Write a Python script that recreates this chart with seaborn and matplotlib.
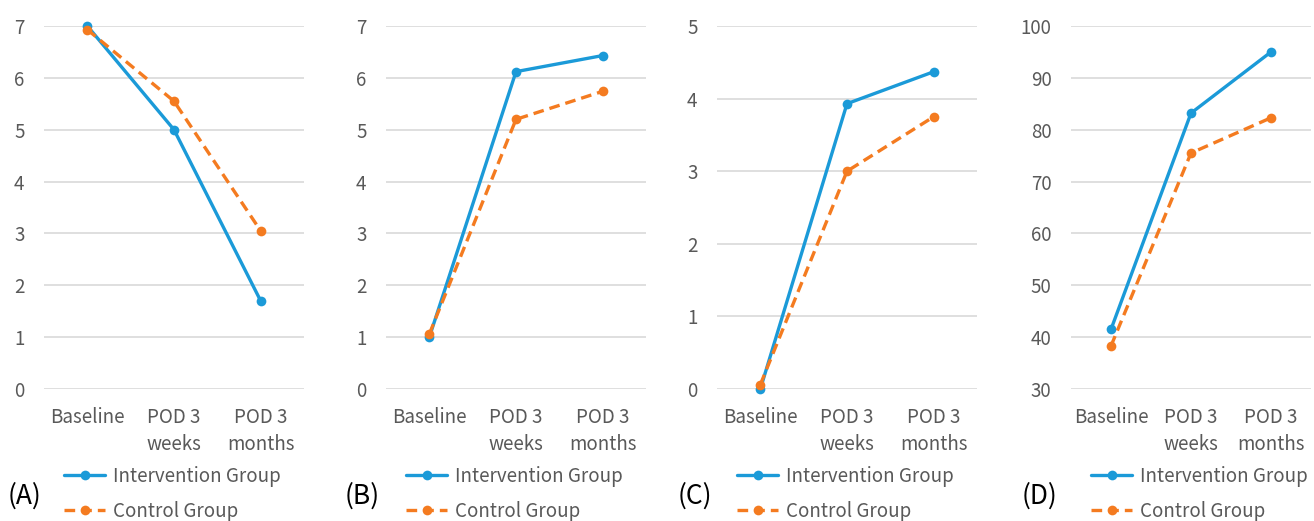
import numpy as np
import pandas as pd
import seaborn as sns
import matplotlib.pyplot as plt

times = ['Baseline', 'POD 3\nweeks', 'POD 3\nmonths']
groups = ['Intervention Group', 'Control Group']
panels = ['(A)', '(B)', '(C)', '(D)']

# values
interv_a = [7.0, 5.0, 1.7]
control_a = [6.93, 5.55, 3.05]
interv_b = [1.0, 6.12, 6.43]
control_b = [1.06, 5.2, 5.74]
interv_c = [0.0, 3.93, 4.37]
control_c = [0.06, 3.0, 3.75]
interv_d = [41.5, 83.2, 95.0]
control_d = [38.3, 75.5, 82.3]

ylims = [(0, 7, 1), (0, 7, 1), (0, 5, 1), (30, 100, 10)]

sns.set_theme(style='white')
plt.rcParams['font.family'] = ['Noto Sans CJK KR', 'DejaVu Sans']

blue = '#1b9ad8'
orange = '#f47b20'
grey = '#595959'

fig = plt.figure(figsize=(13.14, 5.21), dpi=100)
W, H = 1314, 521
lefts = [44, 386, 717, 1071]
widths = [260, 260, 260, 240]
label_x = [8, 345, 678, 1022]

data = [(interv_a, control_a), (interv_b, control_b),
        (interv_c, control_c), (interv_d, control_d)]

for i, (iv, cv) in enumerate(data):
    ax = fig.add_axes([lefts[i] / W, 1 - 389 / H, widths[i] / W, 363 / H])
    df = pd.DataFrame({'time': times * 2,
                       'value': iv + cv,
                       'group': [groups[0]] * 3 + [groups[1]] * 3})
    sns.lineplot(data=df[df.group == groups[0]], x='time', y='value', ax=ax,
                 color=blue, lw=2.4, marker='o', ms=7, mec=blue, mew=0,
                 sort=False, label=groups[0], clip_on=False)
    sns.lineplot(data=df[df.group == groups[1]], x='time', y='value', ax=ax,
                 color=orange, lw=2.4, marker='o', ms=7, mec=orange, mew=0,
                 linestyle=(0, (3.2, 1.8)), sort=False, label=groups[1],
                 clip_on=False)
    lo, hi, step = ylims[i]
    ax.set_ylim(lo, hi)
    ax.set_yticks(np.arange(lo, hi + step / 2, step))
    ax.set_xlim(-0.5, 2.5)
    ax.grid(axis='y', color='#d9d9d9', lw=1.2)
    ax.grid(axis='x', visible=False)
    sns.despine(ax=ax, left=True, bottom=True)
    ax.tick_params(axis='both', length=0, labelsize=13.5, labelcolor=grey)
    ax.tick_params(axis='y', pad=14)
    ax.tick_params(axis='x', pad=13)
    for t in ax.get_xticklabels():
        t.set_linespacing(1.4)
    ax.set_xlabel('')
    ax.set_ylabel('')
    ax.legend(loc='upper left', bbox_to_anchor=((lefts[i] + 20) / W, 1 - 466 / H),
              bbox_transform=fig.transFigure, frameon=False, borderpad=0,
              borderaxespad=0, handlelength=2.2, handletextpad=0.4,
              labelspacing=0.72, fontsize=13.5, labelcolor=grey)
    fig.text(label_x[i] / W, 1 - 496 / H, panels[i], fontsize=19,
             va='center', ha='left', color='black')

fig.savefig('out.png', dpi=100)
